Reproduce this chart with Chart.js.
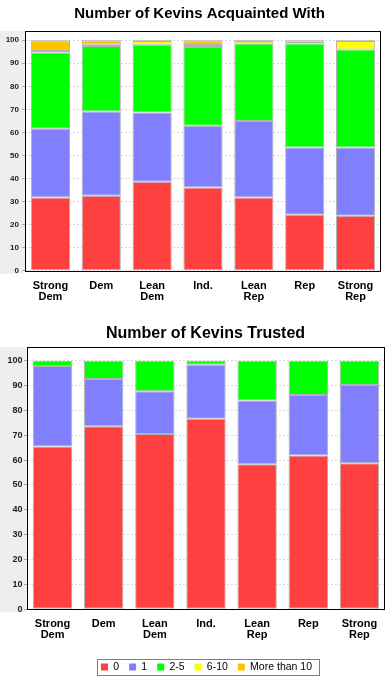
<!DOCTYPE html>
<html><head><meta charset="utf-8">
<script src="https://cdn.jsdelivr.net/npm/chart.js@4"></script>
<style>
html,body{margin:0;padding:0;background:#fff;overflow:hidden;width:391px;height:679px}
#c1{position:absolute;left:0;top:0;width:391px;height:310px}
#c2{position:absolute;left:0;top:310px;width:391px;height:375px}
</style></head><body>
<div id="c1"><canvas id="k1"></canvas></div>
<div id="c2"><canvas id="k2"></canvas></div>
<script>
// ---- data ----
const categories = [["Strong","Dem"],"Dem",["Lean","Dem"],"Ind.",["Lean","Rep"],"Rep",["Strong","Rep"]];
const seriesNames = ["0","1","2-5","6-10","More than 10"];
const yTickValues = [0,10,20,30,40,50,60,70,80,90,100];
const title1 = "Number of Kevins Acquainted With";
const title2 = "Number of Kevins Trusted";

// Acquainted
const acq0    = [31.8, 32.5, 38.6, 36.1, 31.8, 24.3, 23.8];
const acq1    = [29.8, 36.6, 30.0, 26.8, 33.2, 29.2, 29.7];
const acq2to5 = [33.1, 28.4, 29.4, 34.2, 33.6, 45.1, 42.5];
const acq6to10= [0.6, 0.5, 1.7, 0.8, 1.1, 0.7, 3.7];
const acqOver10=[4.7, 2.0, 0.3, 2.1, 0.3, 0.7, 0.3];

// Trusted
const tr0    = [65.5, 73.6, 70.5, 76.6, 58.3, 61.9, 58.7];
const tr1    = [32.4, 19.0, 17.2, 21.8, 25.7, 24.3, 31.5];
const tr2to5 = [2.1, 7.4, 12.3, 1.6, 16.0, 13.8, 9.8];
const tr6to10 = [null, null, null, null, null, null, null];
const trOver10 = [null, null, null, null, null, null, null];

// ---- styles ----
const seriesColors = ["#ff4040","#8080ff","#00ff00","#ffff00","#ffc400"];
const FONT = "'Liberation Sans', Arial, sans-serif";

function makeDatasets(arrs){
  return arrs.map((d,i)=>({
    label: seriesNames[i],
    data: d,
    backgroundColor: seriesColors[i],
    borderColor: "rgba(170,170,170,0.9)",
    borderWidth: 1,
    borderSkipped: false,
    categoryPercentage: 1.0,
    barPercentage: 0.77
  }));
}

const framePlugin = {
  id: 'frame',
  afterLayout(c){
    const o = c.options.plugins.frame || {};
    const t = c.titleBlock;
    if (t && o.titleSpan) { t.left = o.titleSpan[0]; t.right = o.titleSpan[1]; }
    const lg = c.legend;
    if (lg && o.legendSpan && lg.options.display) { lg.left = o.legendSpan[0]; lg.right = o.legendSpan[1]; }
  },
  beforeDraw(c){
    const {ctx, chartArea:a} = c;
    ctx.save();
    ctx.fillStyle = '#eeeeee';
    ctx.fillRect(0, a.top, a.left, a.bottom - a.top + 3);
    ctx.restore();
  },
  afterDatasetsDraw(c){
    const {ctx, chartArea:a} = c;
    ctx.save();
    ctx.strokeStyle = '#000';
    ctx.lineWidth = 1;
    ctx.strokeRect(Math.round(a.left)+0.5, Math.round(a.top)+0.5, Math.round(a.right-a.left)-1, Math.round(a.bottom-a.top));
    ctx.restore();
  }
};

const legendBoxPlugin = {
  id: 'legendBox',
  afterDraw(c){
    const lg = c.legend;
    if (!lg || !lg.options.display || !lg.legendHitBoxes.length) return;
    const hb = lg.legendHitBoxes;
    const first = hb[0], last = hb[hb.length-1];
    const cy = first.top + first.height/2;
    const ctx = c.ctx;
    ctx.save();
    ctx.strokeStyle = '#808080';
    ctx.lineWidth = 1;
    const x0 = Math.round(first.left - 4)+0.5;
    const x1 = Math.round(last.left + last.width + 7)+0.5;
    const y0 = Math.round(cy - 8)+0.5;
    const y1 = Math.round(cy + 8)+0.5;
    ctx.strokeRect(x0, y0, x1-x0, y1-y0);
    ctx.restore();
  }
};

function makeChart(id, datasets, opts){
  return new Chart(document.getElementById(id), {
    type: 'bar',
    data: { labels: categories, datasets },
    plugins: [framePlugin, legendBoxPlugin],
    options: {
      responsive: true,
      maintainAspectRatio: false,
      devicePixelRatio: 1,
      animation: false,
      layout: { padding: opts.padding },
      plugins: {
        frame: { titleSpan: opts.titleSpan, legendSpan: opts.legendSpan },
        tooltip: { enabled: false },
        title: {
          display: true,
          text: opts.title,
          color: '#000',
          font: { family: FONT, size: opts.titleSize, weight: 'bold', lineHeight: 1.2 },
          padding: opts.titlePadding
        },
        legend: opts.legend
      },
      scales: {
        x: {
          stacked: true,
          grid: { display: false, drawTicks: false },
          border: { display: false },
          ticks: {
            color: '#000',
            font: { family: FONT, size: 11, weight: 'bold', lineHeight: 1.0 },
            padding: 9.5,
            maxRotation: 0,
            autoSkip: false
          },
          afterFit: s => { s.height = opts.xHeight; }
        },
        y: {
          stacked: true,
          min: 0,
          max: opts.yMax,
          afterBuildTicks: s => { s.ticks = yTickValues.map(v => ({value: v})); },
          grid: {
            color: 'rgba(215,205,220,0.9)',
            lineWidth: 1,
            drawTicks: true,
            tickLength: 3,
            tickColor: '#aaaaaa',
            tickBorderDash: []
          },
          border: { display: false, dash: [2,2] },
          ticks: {
            color: '#222',
            font: { family: FONT, size: opts.yFont, weight: 'bold' },
            padding: opts.yPad
          },
          afterFit: s => { s.width = opts.yWidth; }
        }
      }
    }
  });
}

makeChart('k1', makeDatasets([acq0, acq1, acq2to5, acq6to10, acqOver10]), {
  title: title1,
  titleSize: 15,
  titleSpan: [18, 381],
  padding: { left: 0, right: 10, top: 0, bottom: 0 },
  titlePadding: { top: 4.6, bottom: 8.4 },
  xHeight: 39.3,
  yWidth: 25,
  yPad: 3,
  yMax: 104,
  yFont: 8,
  legend: { display: false }
});

makeChart('k2', makeDatasets([tr0, tr1, tr2to5, tr6to10, trOver10]), {
  title: title2,
  titleSize: 16,
  titleSpan: [26, 385],
  legendSpan: [28, 385],
  padding: { left: 0, right: 6, top: 0, bottom: 2.75 },
  titlePadding: { top: 14, bottom: 3.8 },
  xHeight: 42.45,
  yWidth: 27,
  yPad: 1.5,
  yMax: 105.5,
  yFont: 9,
  legend: {
    display: true,
    position: 'bottom',
    labels: {
      boxWidth: 7,
      boxHeight: 7,
      padding: 10,
      color: '#000',
      font: { family: FONT, size: 10.5 },
      generateLabels: (c) => c.data.datasets.map((ds, i) => ({
        text: ds.label,
        fillStyle: ds.backgroundColor,
        strokeStyle: ds.backgroundColor,
        lineWidth: 0,
        hidden: false,
        datasetIndex: i
      }))
    }
  }
});
</script>
</body></html>
